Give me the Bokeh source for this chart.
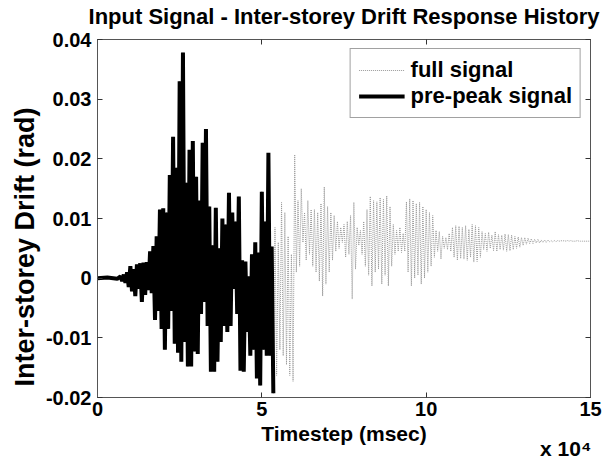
from bokeh.plotting import figure
from bokeh.models import (LinearAxis, FixedTicker, Legend, LegendItem, Title,
                          Range1d, CustomJSTickFormatter)
from bokeh.embed import file_html
from bokeh.resources import INLINE

TITLE = "Input Signal - Inter-storey Drift Response History"
X_LABEL = "Timestep (msec)"
X_MULT = "x 10\u2074"
Y_LABEL = "Inter-storey Drift (rad)"
X_TICKS = [0, 50000, 100000, 150000]
Y_TICKS = [-0.02, -0.01, 0.0, 0.01, 0.02, 0.03, 0.04]

# pre-peak signal (msec, rad)
pre_t = [0, 3000, 6000,
         7000, 7500, 8000, 8500, 9000, 9500, 10000, 10500, 11000, 11500,
         12000, 12500, 13000, 13500, 14000, 14500, 15000, 15500, 16000, 16500,
         17000, 17500, 18000, 18500, 19000, 19500, 20000, 20500, 21000, 21500,
         22000, 22500, 23000, 23500, 24000, 24500, 25000, 25500, 26000, 26500,
         27000, 27500, 28000, 28500, 29000, 29500, 30000, 30500, 31000, 31500,
         32000, 32500, 33000, 33500, 34000, 34500, 35000, 35500, 36000, 36500,
         37000, 37500, 38000, 38500, 39000, 39500, 40000, 40500, 41000, 41500,
         42000, 42500, 43000, 43500, 44000, 44500, 45000, 45500, 46000, 46500,
         47000, 47500, 48000, 48500, 49000, 49500, 50000, 50500, 51000, 51500,
         52000, 52500, 53000, 53500]
pre_v = [0.0, 0.0001, -0.0001,
         0.0003, -0.0005, 0.0006, -0.0008, 0.001, -0.0015, 0.002, -0.0022, 0.0015, -0.003,
         0.0023, -0.0018, 0.0025, -0.004, 0.0026, -0.0028, 0.0027, -0.002, 0.0045, -0.0025,
         0.0054, -0.007, 0.007, -0.0055, 0.0115, -0.0085, 0.0117, -0.012, 0.011, -0.0085,
         0.0173, -0.0055, 0.0237, -0.011, 0.0185, -0.0125, 0.033, -0.014, 0.0378, -0.0107,
         0.016, -0.0148, 0.0215, -0.0148, 0.023, -0.0123, 0.017, -0.0127, 0.013, -0.006,
         0.0227, -0.004, 0.025, -0.008, 0.012, -0.0157, 0.0055, -0.0157, 0.0118, -0.014,
         0.005, -0.0107, 0.010, -0.008, 0.009, -0.009, 0.0143, -0.008, 0.011, -0.0018,
         0.0095, -0.006, 0.0137, -0.0155, 0.003, -0.0157, 0.0028, -0.009, 0.0003, -0.013,
         0.004, -0.012, 0.006, -0.0168, 0.0043, -0.018, 0.0145, -0.012, 0.0095, -0.013,
         0.021, -0.013, 0.0053, -0.0193]

# remainder of the full signal after the peak (msec, rad)
post_t = [54000, 54500, 55000, 55500, 56000, 56500, 57000, 57500, 58000, 58500,
          59000, 59500, 60000, 60500, 61000, 61500, 62000, 62500, 63000, 63500,
          64000, 64500, 65000, 65500, 66000, 66500, 67000, 67500, 68000, 68500,
          69000, 69500, 70000, 70500, 71000, 71500, 72000, 72500, 73000, 73500,
          74000, 74500, 75000, 75500, 76000, 76500, 77000, 77500, 78000, 78500,
          79000, 79500, 80000, 80500, 81000, 81500, 82000, 82500, 83000, 83500,
          84000, 84500, 85000, 85500, 86000, 86500, 87000, 87500, 88000, 88500,
          89000, 89500, 90000, 90500, 91000, 91500, 92000, 92500, 93000, 93500,
          94000, 94500, 95000, 95500, 96000, 96500, 97000, 97500, 98000, 98500,
          99000, 99500, 100000, 100500, 101000, 101500, 102000, 102500, 103000, 103500,
          104000, 104500, 105000, 105500, 106000, 106500, 107000, 107500, 108000, 108500,
          109000, 109500, 110000, 110500, 111000, 111500, 112000, 112500, 113000, 113500,
          114000, 114500, 115000, 115500, 116000, 116500, 117000, 117500, 118000, 118500,
          119000, 119500, 120000, 120500, 121000, 121500, 122000, 122500, 123000, 123500,
          124000, 124500, 125000, 125500, 126000, 126500, 127000, 127500, 128000, 128500,
          129000, 129500, 130000, 130500, 131000, 131500, 132000, 132500, 133000, 133500,
          134000, 134500, 135000, 135500, 136000, 136500, 137000, 137500, 138000, 138500,
          139000, 139500, 140000, 140500, 141000, 141500, 142000, 142500, 143000, 143500,
          144000, 144500, 145000, 145500, 146000, 146500, 147000, 147500, 148000, 148500,
          149000, 149500, 150000]
post_v = [0.0085, -0.0163, 0.006, -0.012, 0.0127, -0.013, 0.011, -0.0145, 0.007, -0.0163,
          0.004, -0.0173, 0.0207, 0.001, 0.013, 0.002, 0.015, 0.006, 0.011, 0.003,
          0.013, 0.004, 0.0115, 0.002, 0.0115, 0.001, 0.011, -0.0005, 0.0125, -0.003,
          0.0153, -0.001, 0.012, 0.001, 0.011, 0.003, 0.0105, 0.0045, 0.0095, 0.005,
          0.0085, 0.006, 0.009, 0.0035, 0.0095, 0.004, 0.0105, -0.0035, 0.0127, 0.0015,
          0.0085, 0.0055, 0.008, 0.004, 0.0095, 0.002, 0.0115, 0.0005, 0.0137, -0.0013,
          0.013, 0.001, 0.0128, 0.0015, 0.0135, -0.001, 0.0132, 0.0005, 0.0138, -0.0013,
          0.012, 0.002, 0.009, 0.004, 0.008, 0.0045, 0.0085, 0.0043, 0.0075, 0.0045,
          0.0128, 0.001, 0.0133, -0.0013, 0.013, 0.0, 0.0125, 0.0005, 0.0127, -0.001,
          0.012, 0.0, 0.0115, 0.001, 0.011, 0.002, 0.0105, 0.0035, 0.008, 0.0045,
          0.0078, 0.0032, 0.007, 0.005, 0.0068, 0.0048, 0.0075, 0.0045, 0.0085, 0.0035,
          0.0088, 0.003, 0.0087, 0.0033, 0.0085, 0.0032, 0.0088, 0.003, 0.0082, 0.0035,
          0.009, 0.0027, 0.0088, 0.0028, 0.0085, 0.0035, 0.0078, 0.0048, 0.0075, 0.0045,
          0.0077, 0.005, 0.0072, 0.0046, 0.0078, 0.0045, 0.0073, 0.0048, 0.0072, 0.0047,
          0.0074, 0.0045, 0.0073, 0.0046, 0.0072, 0.0048, 0.007, 0.005, 0.0069, 0.0052,
          0.0068, 0.0055, 0.0068, 0.0057, 0.0067, 0.0058, 0.0066, 0.0058, 0.0065, 0.0059,
          0.0065, 0.0059, 0.0064, 0.006, 0.0064, 0.006, 0.0064, 0.0061, 0.0063, 0.0061,
          0.0063, 0.0061, 0.0063, 0.0062, 0.0063, 0.0062, 0.0063, 0.0062, 0.0063, 0.0062,
          0.0063, 0.0062, 0.0062, 0.0062, 0.0063, 0.0062, 0.0062, 0.0062, 0.0062, 0.0062,
          0.0062, 0.0062, 0.0062]

full_t = pre_t + post_t
full_v = pre_v + post_v

FONT = "Liberation Sans"

p = figure(width=604, height=463, output_backend="svg", toolbar_location=None,
           x_range=Range1d(0, 150000), y_range=Range1d(-0.02, 0.04),
           min_border_left=97, min_border_right=14, min_border_top=39,
           min_border_bottom=64)
p.background_fill_color = "white"
p.border_fill_color = "white"
p.outline_line_color = "#555555"
p.grid.visible = False

xfmt = CustomJSTickFormatter(code="return (tick/10000).toFixed(0);")
yfmt = CustomJSTickFormatter(code="return Math.abs(tick) < 1e-12 ? '0' : tick.toFixed(2);")
blank = CustomJSTickFormatter(code="return '';")

for ax, ticks, fmt in [(p.xaxis[0], X_TICKS, xfmt), (p.yaxis[0], Y_TICKS, yfmt)]:
    ax.ticker = FixedTicker(ticks=ticks)
    ax.formatter = fmt
    ax.major_label_text_font = FONT
    ax.major_label_text_font_size = "20px"
    ax.major_label_text_font_style = "bold"
    ax.major_label_text_color = "black"
    ax.major_tick_in = 5
    ax.major_tick_out = 0
    ax.minor_tick_line_color = None
    ax.axis_line_color = "#555555"
    ax.major_tick_line_color = "#333333"

# x axis label, with the exponent note right-aligned on a second line
xa = p.xaxis[0]
xa.axis_label = X_LABEL + "\n" + "\u00a0" * 76 + X_MULT
xa.axis_label_text_font = FONT
xa.axis_label_text_font_size = "21px"
xa.axis_label_text_font_style = "bold"
xa.axis_label_text_color = "black"
xa.axis_label_text_line_height = 0.68
xa.major_label_standoff = 4
xa.axis_label_standoff = 3

p.yaxis[0].major_label_standoff = 6

for loc, ticks in [("right", Y_TICKS), ("above", X_TICKS)]:
    ax = LinearAxis(ticker=FixedTicker(ticks=ticks), formatter=blank,
                    major_label_standoff=0, major_tick_in=5, major_tick_out=0,
                    minor_tick_line_color=None, axis_line_color="#555555",
                    major_tick_line_color="#333333")
    p.add_layout(ax, loc)
    if loc == "above":
        ax.axis_label = TITLE
        ax.axis_label_text_font = FONT
        ax.axis_label_text_font_size = "22px"
        ax.axis_label_text_font_style = "bold"
        ax.axis_label_text_color = "black"
        ax.axis_label_standoff = 11

ylab = Title(text=Y_LABEL, align="left", offset=11, standoff=6,
             text_font=FONT, text_font_size="27px", text_font_style="bold",
             text_color="black")
p.add_layout(ylab, "left")

r_full = p.line(full_t, full_v, line_color="#999999", line_width=1, line_dash="1 1")
r_pre = p.line(pre_t, pre_v, line_color="black", line_width=4)

legend = Legend(items=[LegendItem(label="full signal", renderers=[r_full]),
                       LegendItem(label="pre-peak signal", renderers=[r_pre])],
                location="top_right", margin=9, padding=8, spacing=0,
                glyph_width=46, label_standoff=6, label_height=20,
                label_text_font=FONT, label_text_font_size="22px",
                label_text_font_style="bold", label_text_color="black",
                border_line_color="#444444", border_line_width=1,
                background_fill_color="white", background_fill_alpha=1)
p.add_layout(legend, "center")

open("out.html", "w").write(file_html(p, INLINE))
